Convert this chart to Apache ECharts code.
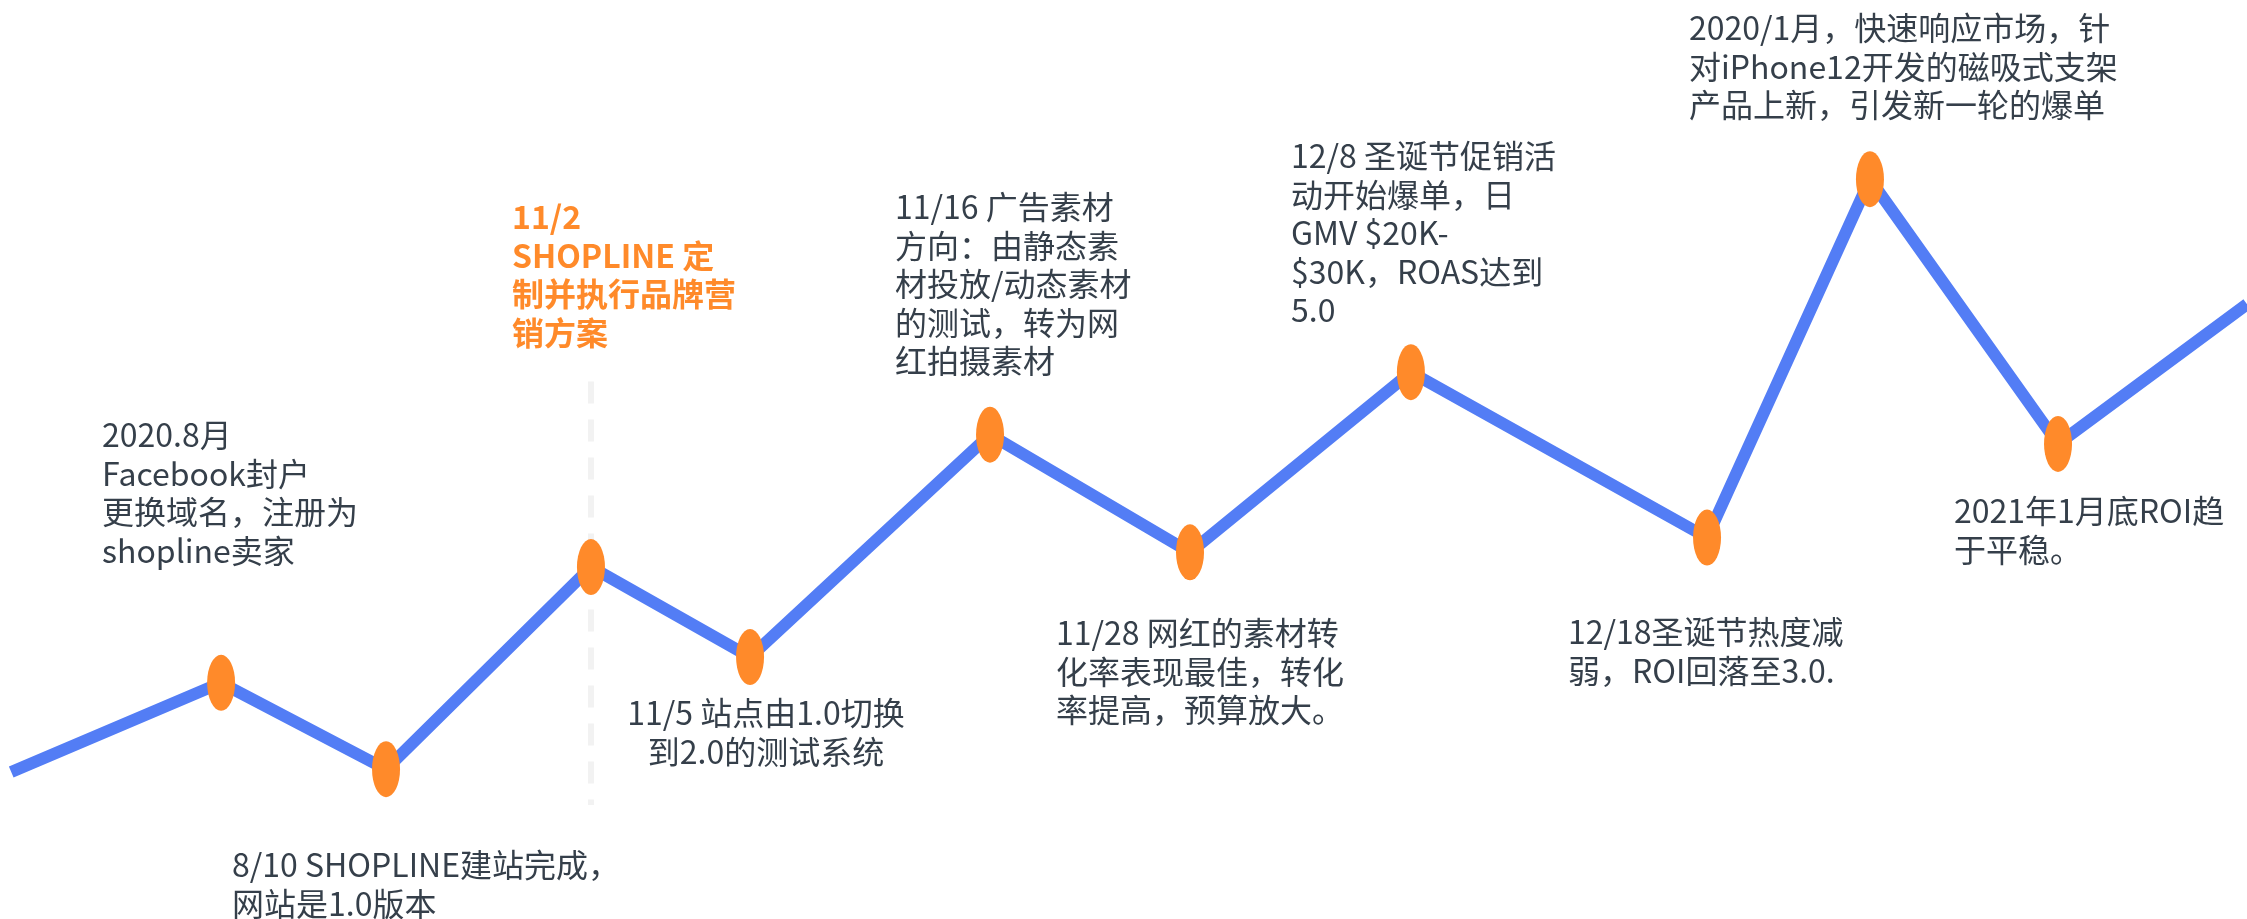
<!DOCTYPE html>
<html>
<head>
<meta charset="utf-8">
<title>ROI timeline</title>
<script src="https://cdn.jsdelivr.net/npm/echarts@6/dist/echarts.min.js"></script>
<style>
  html, body { margin: 0; padding: 0; background: #fff; }
  #main { width: 2247px; height: 919px; }
</style>
</head>
<body>
<div id="main"></div>
<script>
// horizontal position of each turn (0-100 across the page) and its level
var xPos = [0.5, 9.84, 17.18, 26.3, 33.38, 44.06, 52.96, 62.79, 75.97, 83.22, 91.59, 100];
var level = [16.0, 25.7, 16.3, 38.3, 28.5, 52.7, 39.9, 59.5, 41.5, 80.5, 51.7, 66.9];
// the first and last entries only carry the line to the page edges
var events = [
    '',
    '2020.8月\nFacebook封户\n更换域名，注册为\nshopline卖家',
    '8/10 SHOPLINE建站完成，\n网站是1.0版本',
    '11/2\nSHOPLINE 定\n制并执行品牌营\n销方案',
    '11/5 站点由1.0切换\n到2.0的测试系统',
    '11/16 广告素材\n方向：由静态素\n材投放/动态素材\n的测试，转为网\n红拍摄素材',
    '11/28 网红的素材转\n化率表现最佳，转化\n率提高，预算放大。',
    '12/8 圣诞节促销活\n动开始爆单，日\nGMV $20K-\n$30K，ROAS达到\n5.0',
    '12/18圣诞节热度减\n弱，ROI回落至3.0.',
    '2020/1月，快速响应市场，针\n对iPhone12开发的磁吸式支架\n产品上新，引发新一轮的爆单',
    '2021年1月底ROI趋\n于平稳。',
    ''
];
var highlightIndex = 3;

// where each note sits on the page (x, top, align)
var notePlace = {
    1: [102, 416, 'left'],
    2: [232, 846, 'left'],
    3: [512, 198, 'left'],
    4: [766, 694, 'center'],
    5: [895, 188, 'left'],
    6: [1056, 614, 'left'],
    7: [1291, 137, 'left'],
    8: [1568, 613, 'left'],
    9: [1689, 9, 'left'],
    10: [1954, 492, 'left']
};

var myChart = echarts.init(document.getElementById('main'), null, {renderer: 'canvas'});

var lineData = [];
for (var i = 0; i < xPos.length; i++) {
    var item = {value: [xPos[i], level[i]]};
    if (i == 0 || i == xPos.length - 1) {
        item.symbol = 'none';
    }
    lineData.push(item);
}

var notes = [];
for (var k in notePlace) {
    var p = notePlace[k];
    var hl = (k == highlightIndex);
    notes.push({
        type: 'text',
        x: p[0],
        y: p[1],
        silent: true,
        style: {
            text: events[k],
            fill: hl ? '#ff8a2a' : '#353f4a',
            font: (hl ? 'bold ' : '') + '32px "Noto Sans CJK SC", sans-serif',
            lineHeight: 38.5,
            align: p[2],
            verticalAlign: 'top'
        }
    });
}

var option = {
    backgroundColor: '#ffffff',
    animation: false,
    grid: {left: 0, right: 0, top: 0, bottom: 0},
    xAxis: {type: 'value', min: 0, max: 100, show: false},
    yAxis: {type: 'value', min: 0, max: 100, show: false},
    graphic: notes,
    series: [
        {
            // dashed guide under the 11/2 point
            type: 'line',
            z: 1,
            symbol: 'none',
            silent: true,
            data: [[xPos[highlightIndex], 58.5], [xPos[highlightIndex], 12.4]],
            lineStyle: {color: '#f2f2f2', width: 6, type: [22, 16]}
        },
        {
            type: 'line',
            z: 2,
            data: lineData,
            symbol: 'circle',
            symbolSize: [28, 56],
            showSymbol: true,
            clip: false,
            lineStyle: {color: '#537df5', width: 12},
            itemStyle: {color: '#ff8a2a', borderWidth: 0}
        }
    ]
};
myChart.setOption(option);
</script>
</body>
</html>
